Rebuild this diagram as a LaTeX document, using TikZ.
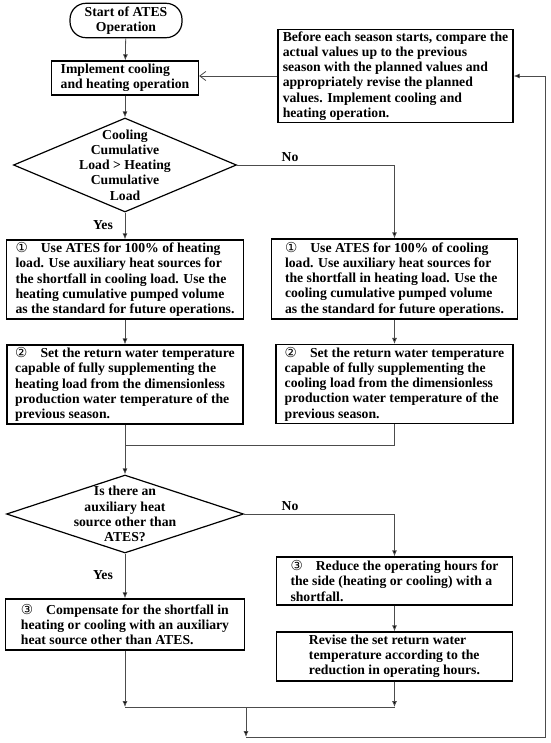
\documentclass[tikz,border=0pt]{standalone}
\usepackage{fontspec}
\setmainfont{Liberation Serif}
\newfontfamily\circfont{DejaVu Sans}
\usetikzlibrary{shapes.geometric,arrows.meta,positioning}

\newcommand{\cnum}[1]{{\circfont\mdseries #1}\hspace{13pt}}

\tikzset{
  txt/.style={font=\bfseries\fontsize{13.7}{15.2}\selectfont},
  box/.style={txt, draw, line width=1.3pt, rectangle, align=left, inner sep=2.5pt},
  term/.style={txt, draw, line width=1.2pt, rectangle, rounded corners=16pt, align=center},
  decision/.style={draw, diamond, line width=1.2pt, inner sep=0pt},
  qtext/.style={txt, align=center},
  line/.style={draw=black!70, line width=0.8pt},
  flow/.style={line, -{Latex[length=6pt,width=5pt,fill=black]}},
  back/.style={line, -{Straight Barb[length=6pt,width=9pt]}}
}

\begin{document}
\begin{tikzpicture}[x=1pt,y=-1pt]
\useasboundingbox (0,0) rectangle (550,743);

% left column
\node[term, minimum width=112pt, minimum height=33pt] (start) at (126,20.5)
    {Start of ATES\\Operation};
\node[box, minimum width=147pt, minimum height=34pt] (impl) at (125,78)
    {Implement cooling\\and heating operation};
\node[decision, minimum width=223pt, minimum height=94pt,
    label={[qtext]center:{Cooling\\Cumulative\\Load > Heating\\Cumulative\\Load}}]
    (dec1) at (125,165) {};
\node[box, minimum width=237pt, minimum height=79pt] (heat1) at (125,279.5)
    {\cnum{①}Use ATES for 100\% of heating\\load. Use auxiliary heat sources for\\the shortfall in cooling load. Use the\\heating cumulative pumped volume\\as the standard for future operations.};
\node[box, minimum width=236pt, minimum height=77pt] (heat2) at (125,384.5)
    {\cnum{②}Set the return water temperature\\capable of fully supplementing the\\heating load from the dimensionless\\production water temperature of the\\previous season.};
\node[decision, minimum width=237pt, minimum height=78pt,
    label={[qtext]center:{Is there an\\auxiliary heat\\source other than\\ATES?}}]
    (dec2) at (125,514) {};
\node[box, minimum width=239pt, minimum height=51pt] (comp) at (125,624.5)
    {\cnum{③}Compensate for the shortfall in\\heating or cooling with an auxiliary\\heat source other than ATES.};

% right column
\node[box, minimum width=235pt, minimum height=93pt] (plan) at (395.5,76)
    {Before each season starts, compare the\\actual values up to the previous\\season with the planned values and\\appropriately revise the planned\\values. Implement cooling and\\heating operation.};
\node[box, minimum width=246pt, minimum height=80pt] (cool1) at (394.5,279)
    {\cnum{①}Use ATES for 100\% of cooling\\load. Use auxiliary heat sources for\\the shortfall in heating load. Use the\\cooling cumulative pumped volume\\as the standard for future operations.};
\node[box, minimum width=237pt, minimum height=78pt] (cool2) at (394.5,384)
    {\cnum{②}Set the return water temperature\\capable of fully supplementing the\\cooling load from the dimensionless\\production water temperature of the\\previous season.};
\node[box, minimum width=236pt, minimum height=48pt] (reduce) at (394.5,581)
    {\cnum{③}Reduce the operating hours for\\the side (heating or cooling) with a\\shortfall.};
\node[box, minimum width=236pt, minimum height=49pt] (revise) at (394.5,656.5)
    {Revise the set return water\\temperature according to the\\reduction in operating hours.};

% branch labels
\node[txt] (yes1) at (103,225) {Yes};
\node[txt] (no1) at (290,157) {No};
\node[txt] (yes2) at (103,575) {Yes};
\node[txt] (no2) at (290,506) {No};

% join points
\coordinate (jn) at (125,445);
\coordinate (mL) at (125,707);
\coordinate (mR) at (394.5,707);
\coordinate (mM) at (246,707);
\coordinate (loopB) at (246,737);
\coordinate (loopC) at (545,737);

\draw[flow] (start) -- (impl);
\draw[flow] (impl) -- (dec1);
\draw[flow] (dec1) -- (heat1);
\draw[flow] (dec1.east) -| (cool1.north);
\draw[flow] (heat1) -- (heat2);
\draw[flow] (cool1) -- (cool2);
\draw[flow] (heat2) -- (dec2);
\draw[line] (cool2.south) |- (jn);
\draw[flow] (dec2) -- (comp);
\draw[flow] (dec2.east) -| (reduce.north);
\draw[flow] (reduce) -- (revise);
\draw[flow] (comp) -- (mL);
\draw[flow] (revise) -- (mR);
\draw[line] (mL) -- (mR);
\draw[flow] (mM) -- (loopB);
\draw[flow] (loopB) -- (loopC) |- (plan);
\draw[back] (plan.west) -- (plan.west -| impl.east);
\end{tikzpicture}
\end{document}
